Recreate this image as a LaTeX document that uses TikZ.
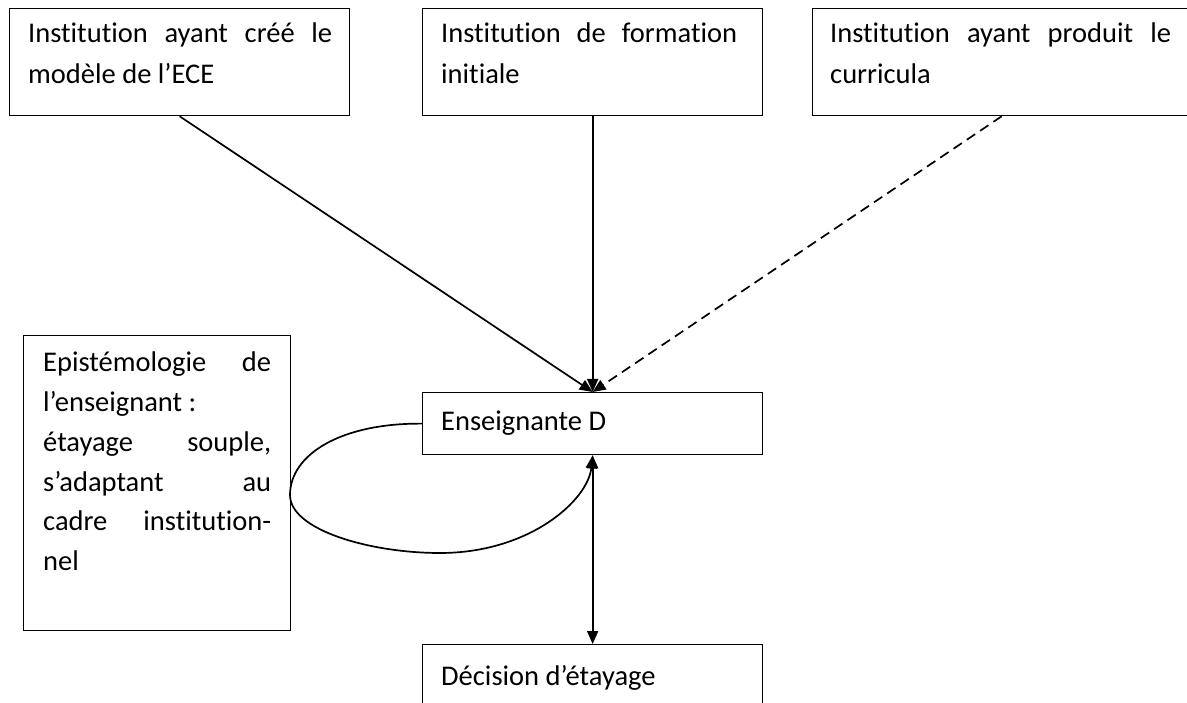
\documentclass[tikz,border=0pt]{standalone}
\usepackage{fontspec}
\setmainfont{Carlito}[Ligatures=NoCommon]
\usetikzlibrary{arrows.meta}
\begin{document}
\begin{tikzpicture}[x=1pt,y=-1pt,
  box/.style={draw,line width=1.3pt,anchor=north west,inner sep=0pt},
  txt/.style={anchor=base west,inner sep=0pt,font=\fontsize{28.5}{40}\selectfont},
  conn/.style={line width=1.7pt},
  tip/.style={-{Triangle[length=13pt,width=11pt]}},
  dtip/.style={{Triangle[length=13pt,width=11pt]}-{Triangle[length=13pt,width=11pt]}}]
\useasboundingbox (0,0) rectangle (1187,703);
% boxes
\node[box,minimum width=340pt,minimum height=107pt] (b1) at (9,8) {};
\node[box,minimum width=340pt,minimum height=107pt] (b2) at (422,8) {};
\node[box,minimum width=378pt,minimum height=107pt] (b3) at (812,8) {};
\node[box,minimum width=267pt,minimum height=295pt] (ep) at (23,335) {};
\node[box,minimum width=340pt,minimum height=62pt] (e) at (422,392) {};
\node[box,minimum width=340pt,minimum height=80pt] (d) at (422,644) {};
% texts
\node[txt] (t1a) at (28,43) {\makebox[304pt][s]{Institution ayant créé le}};
\node[txt] (t1b) at (28,84) {modèle de l’ECE};
\node[txt] (t2a) at (441,43) {\makebox[296pt][s]{Institution de formation}};
\node[txt] (t2b) at (441,84) {initiale};
\node[txt] (t3a) at (830,43) {\makebox[341pt][s]{Institution ayant produit le}};
\node[txt] (t3b) at (830,84) {curricula};
\node[txt] (te1) at (43,372) {\makebox[228pt][s]{Epistémologie de}};
\node[txt] (te2) at (43,412) {l’enseignant :};
\node[txt] (te3) at (43,451) {\makebox[228pt][s]{étayage souple,}};
\node[txt] (te4) at (43,491) {\makebox[228pt][s]{s’adaptant au}};
\node[txt] (te5) at (43,530) {\makebox[228pt][s]{cadre institution-}};
\node[txt] (te6) at (43,570) {nel};
\node[txt] (tE) at (441,431) {Enseignante D};
\node[txt] (tD) at (441,685) {Décision d’étayage};
% connectors
\draw[conn,tip] (b1.south) -- (e.north);
\draw[conn,tip] (b2.south) -- (e.north);
\draw[conn,tip,dash pattern=on 10pt off 6pt] (b3.south) -- (e.north);
\draw[conn,tip] (e.west) .. controls (340,423) and (290,455) .. (290,495)
  .. controls (290,530) and (370,553) .. (440,553)
  .. controls (530,553) and (588,500) .. (e.south);
\draw[conn,dtip] (e.south) -- (d.north);
\end{tikzpicture}
\end{document}
